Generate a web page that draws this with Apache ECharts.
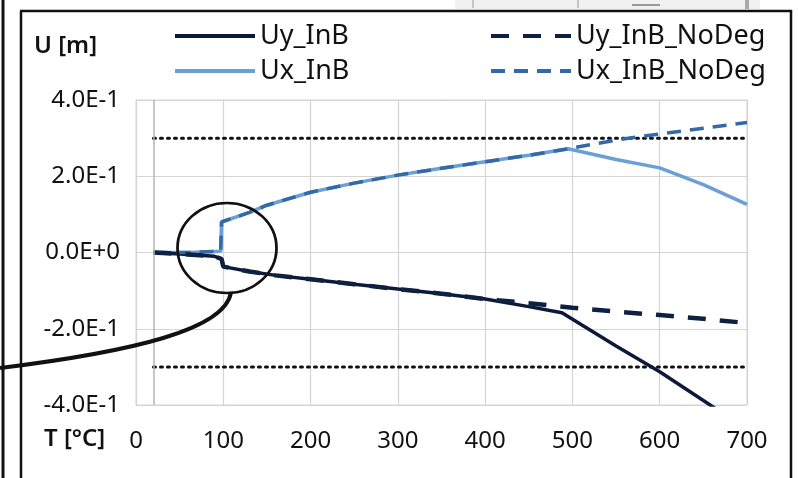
<!DOCTYPE html>
<html>
<head>
<meta charset="utf-8">
<style>
  html, body { margin: 0; padding: 0; background: #fff; }
  #chart { width: 798px; height: 478px; }
</style>
<script src="https://cdn.jsdelivr.net/npm/echarts@6/dist/echarts.min.js"></script>
</head>
<body>
<div id="chart"></div>
<script>
// temperature points [°C] and displacements [m]
const tUx = [20, 60, 97, 98, 130, 150, 200, 250, 300, 350, 400, 450, 495, 550, 600, 650, 700];
const uxInB = [0.0, 0.0, 0.003, 0.08, 0.105, 0.124, 0.158, 0.182, 0.203, 0.221, 0.238, 0.255, 0.272, 0.244, 0.222, 0.178, 0.126];
const tUxNoDeg = [20, 60, 97, 98, 130, 150, 200, 250, 300, 350, 400, 450, 495, 550, 600, 650, 700];
const uxInBNoDeg = [0.0, 0.0, 0.003, 0.08, 0.105, 0.124, 0.158, 0.182, 0.203, 0.221, 0.238, 0.255, 0.272, 0.295, 0.311, 0.326, 0.341];

const tUy = [20, 60, 90, 98, 100, 130, 160, 200, 250, 300, 350, 400, 450, 488, 550, 600, 650, 700];
const uyInB = [0.0, -0.005, -0.01, -0.017, -0.037, -0.05, -0.06, -0.07, -0.083, -0.096, -0.108, -0.122, -0.142, -0.158, -0.245, -0.313, -0.388, -0.465];
const tUyNoDeg = [20, 60, 90, 98, 100, 130, 160, 200, 250, 300, 350, 400, 450, 500, 550, 600, 650, 700];
const uyInBNoDeg = [0.0, -0.005, -0.01, -0.017, -0.037, -0.05, -0.06, -0.07, -0.083, -0.096, -0.108, -0.122, -0.133, -0.145, -0.155, -0.164, -0.174, -0.185];

const limitT = [20, 700];
const limitUp = [0.3, 0.3];
const limitDown = [-0.3, -0.3];

const xTicks = [0, 100, 200, 300, 400, 500, 600, 700];
const yTickLabels = ['-4.0E-1', '-2.0E-1', '0.0E+0', '2.0E-1', '4.0E-1'];

const zip = (xs, ys) => xs.map((x, i) => [x, ys[i]]);

const FONT = 'Noto Sans';
const chart = echarts.init(document.getElementById('chart'), null, { renderer: 'canvas' });

// legend shared settings (symbol hidden, only the line sample)
const legendBase = {
    orient: 'vertical', top: 16, padding: 5,
    itemWidth: 80, itemHeight: 20, itemGap: 5,
    itemStyle: { opacity: 0 },
    lineStyle: { width: 4 },
    textStyle: { fontSize: 27, lineHeight: 30, color: '#111', fontFamily: FONT }
};

const option = {
    animation: false,
    textStyle: { fontFamily: FONT },
    grid: { left: 136, right: 51, top: 100, bottom: 73, show: true, borderColor: '#d4d4d4', borderWidth: 1 },
    legend: [
        Object.assign({}, legendBase, { data: ['Uy_InB', 'Ux_InB'], left: 168 }),
        Object.assign({}, legendBase, { data: ['Uy_InB_NoDeg', 'Ux_InB_NoDeg'], left: 484 })
    ],
    xAxis: {
        type: 'value', min: 0, max: 700, interval: 100,
        axisLine: { show: false },
        axisTick: { show: false },
        splitLine: { show: true, lineStyle: { color: '#d4d4d4', width: 1.2 } },
        axisLabel: {
            fontSize: 24, color: '#111', margin: 24,
            formatter: v => (xTicks.indexOf(v) >= 0 ? String(v) : '')
        }
    },
    yAxis: {
        type: 'value', min: -0.4, max: 0.4, interval: 0.2,
        axisLine: { show: false },
        axisTick: { show: false },
        splitLine: { show: true, lineStyle: { color: '#d4d4d4', width: 1.2 } },
        axisLabel: {
            fontSize: 24, color: '#111', margin: 16,
            formatter: (v, i) => yTickLabels[i]
        }
    },
    series: [
        {
            name: 'limit+', type: 'line', data: zip(limitT, limitUp),
            symbol: 'none', silent: true,
            lineStyle: { color: '#111', width: 3, type: [2, 5], cap: 'round' },
            markLine: {
                silent: true, symbol: 'none', label: { show: false },
                lineStyle: { color: '#b5b5b5', width: 1.5, type: 'solid' },
                data: [{ xAxis: 20 }]
            }
        },
        {
            name: 'limit-', type: 'line', data: zip(limitT, limitDown),
            symbol: 'none', silent: true,
            lineStyle: { color: '#111', width: 3, type: [2, 5], cap: 'round' }
        },
        {
            name: 'Ux_InB', type: 'line', data: zip(tUx, uxInB),
            symbol: 'none', color: '#6b9fd6',
            lineStyle: { color: '#6b9fd6', width: 3.5 }
        },
        {
            name: 'Uy_InB', type: 'line', data: zip(tUy, uyInB),
            symbol: 'none', color: '#0c1a3a',
            lineStyle: { color: '#0c1a3a', width: 3.5 }
        },
        {
            name: 'Ux_InB_NoDeg', type: 'line', data: zip(tUxNoDeg, uxInBNoDeg),
            symbol: 'none', color: '#3469a8',
            lineStyle: { color: '#3469a8', width: 3.5, type: [14, 9] }
        },
        {
            name: 'Uy_InB_NoDeg', type: 'line', data: zip(tUyNoDeg, uyInBNoDeg),
            symbol: 'none', color: '#0e2143',
            lineStyle: { color: '#0e2143', width: 4.5, type: [18, 14] }
        }
    ],
    graphic: [
        // picture frame
        { type: 'line', shape: { x1: 3, y1: 0, x2: 3, y2: 478 }, style: { stroke: '#111', lineWidth: 3 } },
        { type: 'line', shape: { x1: 21, y1: 11, x2: 21, y2: 478 }, style: { stroke: '#111', lineWidth: 2.5 } },
        { type: 'line', shape: { x1: 20, y1: 11, x2: 792, y2: 11 }, style: { stroke: '#111', lineWidth: 2.5 } },
        { type: 'line', shape: { x1: 791, y1: 10, x2: 791, y2: 478 }, style: { stroke: '#111', lineWidth: 2.5 } },
        // scrap of the neighbouring picture at the top
        { type: 'rect', shape: { x: 455, y: 0, width: 305, height: 9 }, style: { fill: '#f1f1f1' } },
        { type: 'line', shape: { x1: 473, y1: 0, x2: 473, y2: 8 }, style: { stroke: '#999', lineWidth: 1 } },
        { type: 'line', shape: { x1: 578, y1: 0, x2: 578, y2: 8 }, style: { stroke: '#999', lineWidth: 1 } },
        { type: 'line', shape: { x1: 632, y1: 5, x2: 660, y2: 5 }, style: { stroke: '#444', lineWidth: 1 } },
        { type: 'rect', shape: { x: 745, y: 0, width: 4, height: 9 }, style: { fill: '#aaa' } },
        // axis titles
        { type: 'text', left: 34, top: 34, style: { text: 'U [m]', font: '600 24px "Noto Sans"', fill: '#111' } },
        { type: 'text', left: 44, top: 427, style: { text: 'T [°C]', font: '600 24px "Noto Sans"', fill: '#111' } },
        // highlight ellipse and its leader curve
        {
            type: 'circle', x: 227, y: 248, scaleX: 1.1, scaleY: 1.0,
            shape: { cx: 0, cy: 0, r: 45 },
            style: { fill: 'none', stroke: '#111', lineWidth: 2.5 }, z: 100
        },
        {
            type: 'bezierCurve',
            shape: { x1: 231, y1: 292, cpx1: 226, cpy1: 330, cpx2: 130, cpy2: 352, x2: 0, y2: 368 },
            style: { fill: 'none', stroke: '#111', lineWidth: 4 }, z: 100
        }
    ]
};

chart.setOption(option);
</script>
</body>
</html>
